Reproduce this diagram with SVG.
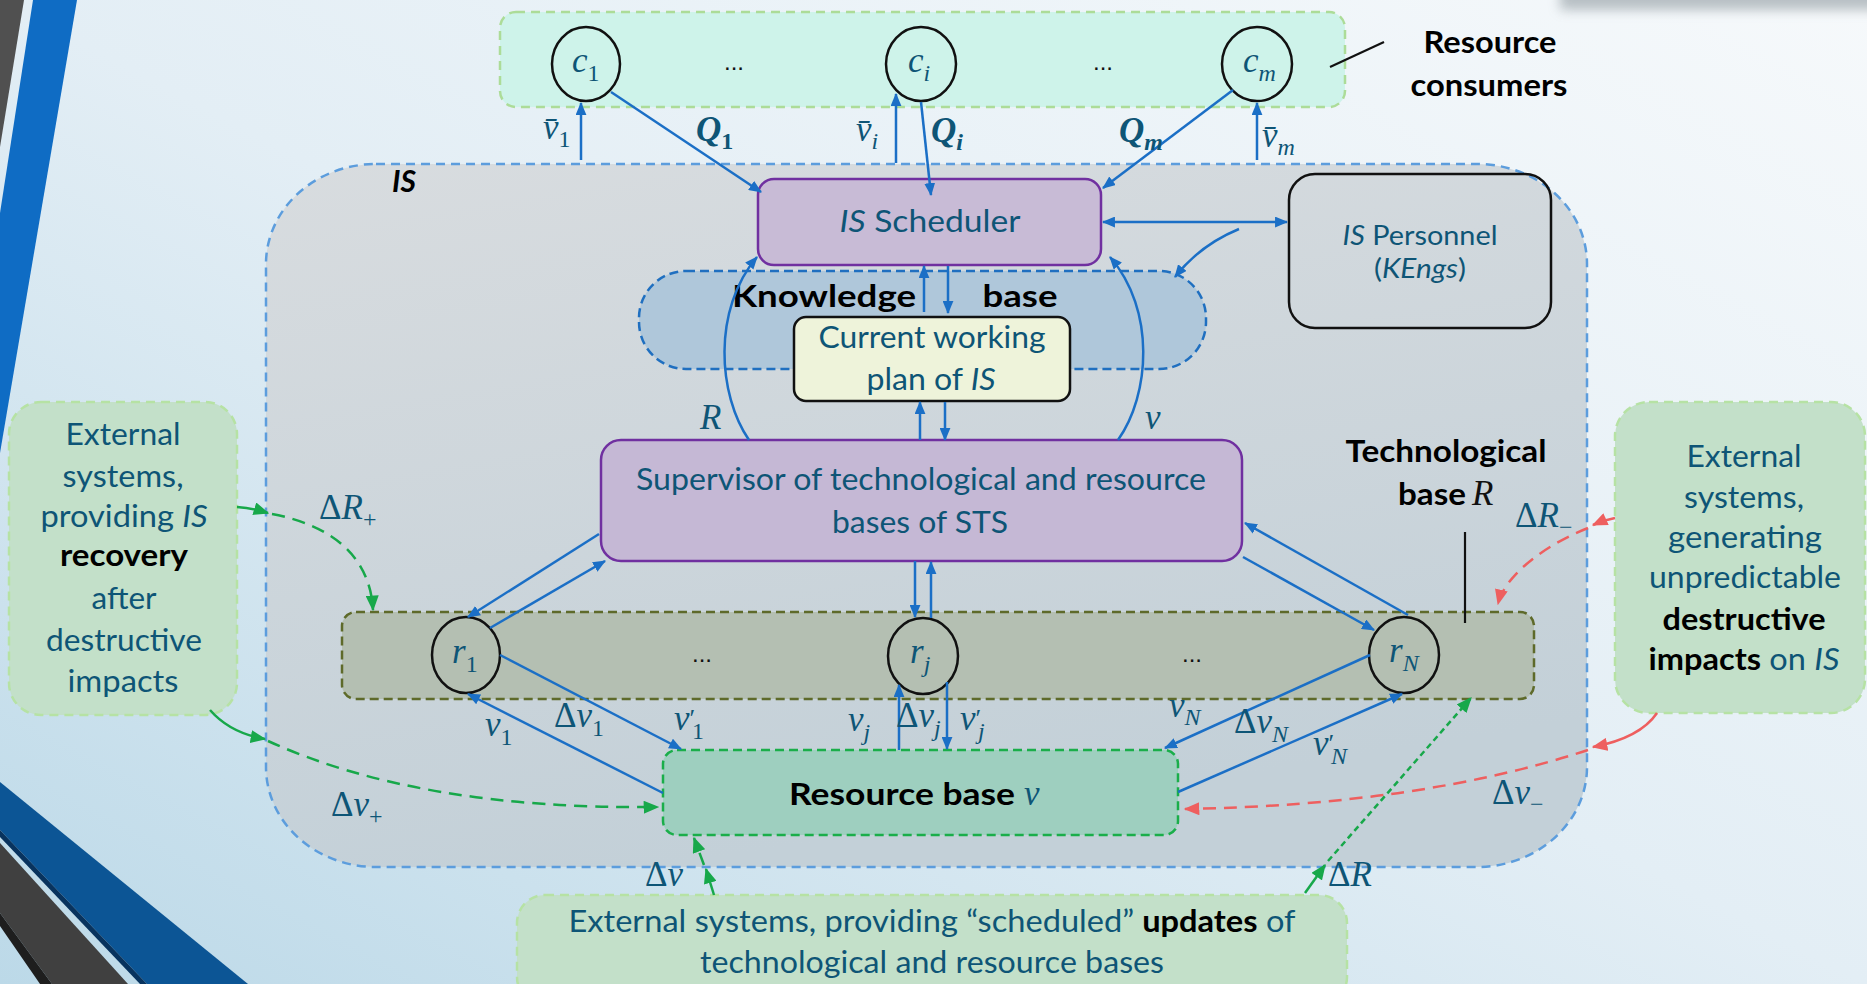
<svg xmlns="http://www.w3.org/2000/svg" width="1867" height="984" viewBox="0 0 1867 984">
<defs>
  <linearGradient id="bg" x1="1" y1="0" x2="0" y2="1">
    <stop offset="0" stop-color="#f6f9fb"/>
    <stop offset="0.5" stop-color="#e3eef5"/>
    <stop offset="1" stop-color="#bcd9e8"/>
  </linearGradient>
  <linearGradient id="isFill" x1="0" y1="0" x2="0.3" y2="1">
    <stop offset="0" stop-color="#d8dcdf"/>
    <stop offset="1" stop-color="#c3d0d8"/>
  </linearGradient>
  <filter id="soft" x="-20%" y="-100%" width="140%" height="300%">
    <feGaussianBlur stdDeviation="6"/>
  </filter>
  <marker id="ab" viewBox="0 0 12 10" refX="11" refY="5" markerWidth="13" markerHeight="11" markerUnits="userSpaceOnUse" orient="auto-start-reverse">
    <path d="M0,0 L12,5 L0,10 z" fill="#1b6fc6"/>
  </marker>
  <marker id="ag" viewBox="0 0 12 10" refX="11" refY="5" markerWidth="16" markerHeight="13" markerUnits="userSpaceOnUse" orient="auto">
    <path d="M0,0 L12,5 L0,10 z" fill="#17a84a"/>
  </marker>
  <marker id="ar" viewBox="0 0 12 10" refX="11" refY="5" markerWidth="16" markerHeight="13" markerUnits="userSpaceOnUse" orient="auto">
    <path d="M0,0 L12,5 L0,10 z" fill="#ee5f5f"/>
  </marker>
</defs>
<style>
  .t{font-family:Lato,'Open Sans','Liberation Sans',sans-serif;font-size:30px;fill:#0e5576}
  .k{font-weight:bold;fill:#000}
  .i{font-style:italic}
  .m{font-family:'Liberation Serif','DejaVu Serif',serif;font-style:italic;font-size:35px;fill:#0e5576}
  .s{font-size:24px}
  .u{font-style:normal}
  .dots{font-family:'Liberation Sans',sans-serif;font-size:24px;fill:#111}
  .node{fill:none;stroke:#111;stroke-width:2.5}
  .bl{fill:none;stroke:#1b6fc6;stroke-width:2.5;marker-end:url(#ab)}
  .gs{fill:none;stroke:#17a84a;stroke-width:2.5;marker-end:url(#ag)}
  .gd{fill:none;stroke:#17a84a;stroke-width:2.5;stroke-dasharray:13 8;marker-end:url(#ag)}
  .rs{fill:none;stroke:#ee5f5f;stroke-width:2.5;marker-end:url(#ar)}
  .rd{fill:none;stroke:#ee5f5f;stroke-width:2.5;stroke-dasharray:13 8;marker-end:url(#ar)}
  .ext{fill:#c3e0c9;stroke:#b6e2a4;stroke-width:2.5;stroke-dasharray:9 6}
</style>

<!-- page background and slide decorations -->
<rect width="1867" height="984" fill="url(#bg)"/>
<rect x="1560" y="-24" width="340" height="34" fill="#9ea7ad" opacity="0.7" filter="url(#soft)"/>
<g id="decor">
  <polygon points="0,0 24,0 0,147" fill="#505050"/>
  <polygon points="33,0 77,0 0,453 0,213" fill="#0f6cc4"/>
  <polygon points="0,782 248,984 147,984 0,830" fill="#0c5595"/>
  <polygon points="0,830 147,984 140,984 0,837" fill="#08335e"/>
  <polygon points="0,843 128,984 52,984 0,913" fill="#404040"/>
  <polygon points="0,913 52,984 40,984 0,926" fill="#1e1e1e"/>
</g>

<!-- information system boundary -->
<g id="is-region">
  <rect x="266" y="164" width="1321" height="703" rx="110" ry="100" fill="url(#isFill)" stroke="#5c9ddd" stroke-width="2.5" stroke-dasharray="9 6"/>
  <text class="t k i" x="392" y="192">IS</text>
</g>

<g id="consumers">
  <rect x="500" y="12" width="845" height="95" rx="16" fill="#cef3ea" stroke="#acdc98" stroke-width="2.5" stroke-dasharray="9 6"/>
  <text class="dots" x="734" y="70" text-anchor="middle">...</text>
  <text class="dots" x="1103" y="70" text-anchor="middle">...</text>
  <line x1="1330" y1="67" x2="1384" y2="42" stroke="#111" stroke-width="2.2"/>
  <text class="t k" x="1490" y="53" text-anchor="middle" textLength="133" lengthAdjust="spacingAndGlyphs">Resource</text>
  <text class="t k" x="1489" y="96" text-anchor="middle" textLength="157" lengthAdjust="spacingAndGlyphs">consumers</text>
</g>
<g id="c1">
  <ellipse cx="586" cy="64" rx="34" ry="37" class="node"/>
  <text class="m" x="572" y="72">c<tspan class="s u" y="81">1</tspan></text>
</g>
<g id="ci">
  <ellipse cx="921" cy="64" rx="35" ry="37" class="node"/>
  <text class="m" x="908" y="72">c<tspan class="s" y="81">i</tspan></text>
</g>
<g id="cm">
  <ellipse cx="1257" cy="64" rx="35" ry="37" class="node"/>
  <text class="m" x="1243" y="72">c<tspan class="s" y="81">m</tspan></text>
</g>

<g id="scheduler">
  <rect x="758" y="179" width="343" height="86" rx="16" fill="#c8bbd6" stroke="#7030a0" stroke-width="2.5"/>
  <text class="t" x="930" y="232" text-anchor="middle" textLength="181" lengthAdjust="spacingAndGlyphs"><tspan class="i">IS</tspan>  Scheduler</text>
</g>

<g id="personnel">
  <rect x="1289" y="174" width="262" height="154" rx="26" fill="none" stroke="#111" stroke-width="2.5"/>
  <text class="t" x="1420" y="245" text-anchor="middle" textLength="155" lengthAdjust="spacingAndGlyphs" style="font-size:27px"><tspan class="i">IS</tspan>  Personnel</text>
  <text class="t" x="1420" y="278" text-anchor="middle" textLength="92" lengthAdjust="spacingAndGlyphs" style="font-size:27px">(<tspan class="i">KEngs</tspan>)</text>
</g>

<g id="knowledge-base">
  <rect x="639" y="271" width="567" height="98" rx="47" fill="#afc7da" stroke="#1f6fc0" stroke-width="2.5" stroke-dasharray="9 5"/>
  <text class="t k" x="824" y="307" text-anchor="middle" textLength="184" lengthAdjust="spacingAndGlyphs">Knowledge</text>
  <text class="t k" x="1020" y="307" text-anchor="middle" textLength="75" lengthAdjust="spacingAndGlyphs">base</text>
</g>

<g id="working-plan">
  <rect x="794" y="317" width="276" height="84" rx="12" fill="#eef3da" stroke="#111" stroke-width="2.5"/>
  <text class="t" x="932" y="348" text-anchor="middle" textLength="227" lengthAdjust="spacingAndGlyphs">Current working</text>
  <text class="t" x="931" y="390" text-anchor="middle" textLength="129" lengthAdjust="spacingAndGlyphs">plan of <tspan class="i">IS</tspan></text>
</g>

<g id="supervisor">
  <rect x="601" y="440" width="641" height="121" rx="20" fill="#c5b8d5" stroke="#7030a0" stroke-width="2.5"/>
  <text class="t" x="921" y="490" text-anchor="middle" textLength="570" lengthAdjust="spacingAndGlyphs">Supervisor of technological and resource</text>
  <text class="t" x="920" y="533" text-anchor="middle" textLength="176" lengthAdjust="spacingAndGlyphs">bases of STS</text>
</g>

<g id="technological-base">
  <rect x="342" y="612" width="1192" height="87" rx="14" fill="#b4bfb2" stroke="#5e6a2a" stroke-width="2.5" stroke-dasharray="9 5"/>
  <text class="dots" x="702" y="662" text-anchor="middle">...</text>
  <text class="dots" x="1192" y="662" text-anchor="middle">...</text>
  <line x1="1465" y1="532" x2="1465" y2="623" stroke="#111" stroke-width="2.2"/>
  <text class="t k" x="1446" y="462" text-anchor="middle" textLength="201" lengthAdjust="spacingAndGlyphs">Technological</text>
  <text class="t k" x="1398" y="505" textLength="68" lengthAdjust="spacingAndGlyphs">base</text>
  <text class="m" x="1472" y="505" style="fill:#111">R</text>
</g>
<g id="r1">
  <ellipse cx="466" cy="655" rx="34" ry="38" class="node"/>
  <text class="m" x="452" y="663">r<tspan class="s u" y="672">1</tspan></text>
</g>
<g id="rj">
  <ellipse cx="923" cy="656" rx="35" ry="38" class="node"/>
  <text class="m" x="910" y="663">r<tspan class="s" y="672">j</tspan></text>
</g>
<g id="rN">
  <ellipse cx="1404" cy="655" rx="35" ry="38" class="node"/>
  <text class="m" x="1389" y="662">r<tspan class="s" y="671">N</tspan></text>
</g>

<g id="resource-base">
  <rect x="663" y="750" width="515" height="85" rx="14" fill="#9ecfbf" stroke="#1aae4a" stroke-width="2.5" stroke-dasharray="9 5"/>
  <text class="t k" x="789" y="805" textLength="226" lengthAdjust="spacingAndGlyphs">Resource base</text>
  <text class="m" x="1024" y="805">v</text>
</g>

<g id="ext-recovery">
  <rect x="9" y="402" width="228" height="313" rx="32" class="ext"/>
  <text class="t" x="123" y="445" text-anchor="middle" textLength="115" lengthAdjust="spacingAndGlyphs">External</text>
  <text class="t" x="123" y="487" text-anchor="middle" textLength="121" lengthAdjust="spacingAndGlyphs">systems,</text>
  <text class="t" x="124" y="527" text-anchor="middle" textLength="167" lengthAdjust="spacingAndGlyphs">providing <tspan class="i">IS</tspan></text>
  <text class="t k" x="124" y="566" text-anchor="middle" textLength="128" lengthAdjust="spacingAndGlyphs">recovery</text>
  <text class="t" x="124" y="609" text-anchor="middle" textLength="65" lengthAdjust="spacingAndGlyphs">after</text>
  <text class="t" x="124" y="651" text-anchor="middle" textLength="156" lengthAdjust="spacingAndGlyphs">destructive</text>
  <text class="t" x="123" y="692" text-anchor="middle" textLength="111" lengthAdjust="spacingAndGlyphs">impacts</text>
</g>

<g id="ext-destructive">
  <rect x="1615" y="402" width="250" height="311" rx="34" class="ext"/>
  <text class="t" x="1744" y="467" text-anchor="middle" textLength="115" lengthAdjust="spacingAndGlyphs">External</text>
  <text class="t" x="1744" y="508" text-anchor="middle" textLength="120" lengthAdjust="spacingAndGlyphs">systems,</text>
  <text class="t" x="1745" y="548" text-anchor="middle" textLength="154" lengthAdjust="spacingAndGlyphs">generating</text>
  <text class="t" x="1745" y="588" text-anchor="middle" textLength="192" lengthAdjust="spacingAndGlyphs">unpredictable</text>
  <text class="t k" x="1744" y="630" text-anchor="middle" textLength="163" lengthAdjust="spacingAndGlyphs">destructive</text>
  <text class="t" x="1744" y="670" text-anchor="middle" textLength="191" lengthAdjust="spacingAndGlyphs"><tspan class="k">impacts</tspan> on <tspan class="i">IS</tspan></text>
</g>

<g id="ext-updates">
  <rect x="517" y="895" width="830" height="110" rx="28" class="ext"/>
  <text class="t" x="932" y="932" text-anchor="middle" textLength="727" lengthAdjust="spacingAndGlyphs">External systems, providing “scheduled” <tspan class="k">updates</tspan> of</text>
  <text class="t" x="932" y="973" text-anchor="middle" textLength="464" lengthAdjust="spacingAndGlyphs">technological and resource bases</text>
</g>

<g id="connectors">
  <!-- consumers and scheduler -->
  <path class="bl" d="M581 160 L581 103"/>
  <path class="bl" d="M896 163 L896 94"/>
  <path class="bl" d="M1257 160 L1257 103"/>
  <path class="bl" d="M611 92 L761 192"/>
  <path class="bl" d="M921 102 L931 195"/>
  <path class="bl" d="M1233 90 L1103 188"/>
  <path class="bl" style="marker-start:url(#ab)" d="M1103 222 L1287 222"/>
  <path class="bl" d="M1239 229 Q1200 245 1175 277"/>
  <path class="bl" d="M924 312 L924 266"/>
  <path class="bl" d="M948 266 L948 313"/>
  <path class="bl" d="M920 440 L920 402"/>
  <path class="bl" d="M945 402 L945 440"/>
  <path class="bl" d="M749 440 C718 395 712 310 757 257"/>
  <path class="bl" d="M1118 440 C1150 395 1156 310 1110 257"/>
  <!-- supervisor and technological base -->
  <path class="bl" d="M599 534 L468 617"/>
  <path class="bl" d="M490 628 L605 561"/>
  <path class="bl" d="M915 561 L915 617"/>
  <path class="bl" d="M931 618 L931 562"/>
  <path class="bl" d="M1408 615 L1245 523"/>
  <path class="bl" d="M1243 557 L1374 630"/>
  <!-- technological base and resource base -->
  <path class="bl" d="M663 793 L468 694"/>
  <path class="bl" d="M500 655 L681 749"/>
  <path class="bl" d="M899 750 L899 685"/>
  <path class="bl" d="M947 682 L947 749"/>
  <path class="bl" d="M1370 655 L1165 748"/>
  <path class="bl" d="M1178 792 L1402 694"/>
  <!-- external impacts -->
  <path class="gs" d="M237 507 Q252 508 268 513"/>
  <path class="gd" d="M272 514 C330 525 370 555 373 610"/>
  <path class="gs" d="M210 710 Q230 733 265 739"/>
  <path class="gd" d="M268 741 Q420 810 658 807"/>
  <path class="rs" d="M1615 518 Q1604 520 1593 525"/>
  <path class="rd" d="M1588 528 C1545 545 1505 575 1498 604"/>
  <path class="rs" d="M1657 713 Q1640 738 1593 747"/>
  <path class="rd" d="M1588 750 Q1420 805 1185 809"/>
  <path class="gs" d="M714 895 L706 869"/>
  <path class="gd" d="M704 865 L694 838"/>
  <path class="gs" d="M1305 893 L1325 865"/>
  <path class="gd" style="stroke-dasharray:6 4" d="M1328 861 L1471 698"/>

  <!-- labels -->
  <text class="m" x="543" y="139">v&#x304;<tspan class="s u" y="147">1</tspan></text>
  <text class="m" x="856" y="141">v&#x304;<tspan class="s" y="149">i</tspan></text>
  <text class="m" x="1262" y="147">v&#x304;<tspan class="s" y="155">m</tspan></text>
  <text class="m" x="696" y="141" style="font-weight:bold">Q<tspan class="s u" y="149">1</tspan></text>
  <text class="m" x="931" y="142" style="font-weight:bold">Q<tspan class="s" y="150">i</tspan></text>
  <text class="m" x="1119" y="142" style="font-weight:bold">Q<tspan class="s" y="150">m</tspan></text>
  <text class="m" x="700" y="429">R</text>
  <text class="m" x="1145" y="429">v</text>
  <text class="m" x="319" y="519"><tspan class="u">Δ</tspan>R<tspan class="s u" y="527">+</tspan></text>
  <text class="m" x="331" y="816"><tspan class="u">Δ</tspan>v<tspan class="s u" y="824">+</tspan></text>
  <text class="m" x="1515" y="527"><tspan class="u">Δ</tspan>R<tspan class="s u" y="535">−</tspan></text>
  <text class="m" x="1492" y="804"><tspan class="u">Δ</tspan>v<tspan class="s u" y="812">−</tspan></text>
  <text class="m" x="645" y="886"><tspan class="u">Δ</tspan>v</text>
  <text class="m" x="1328" y="886"><tspan class="u">Δ</tspan>R</text>
  <text class="m" x="485" y="736">v<tspan class="s u" y="745">1</tspan></text>
  <text class="m" x="554" y="727"><tspan class="u">Δ</tspan>v<tspan class="s u" y="736">1</tspan></text>
  <text class="m" x="674" y="730">v<tspan class="u" style="font-size:26px" dy="-3">′</tspan><tspan class="s u" x="692" y="739">1</tspan></text>
  <text class="m" x="848" y="731">v<tspan class="s" y="740">j</tspan></text>
  <text class="m" x="896" y="727"><tspan class="u">Δ</tspan>v<tspan class="s" y="736">j</tspan></text>
  <text class="m" x="960" y="730">v<tspan class="u" style="font-size:26px" dy="-3">′</tspan><tspan class="s" x="978" y="739">j</tspan></text>
  <text class="m" x="1169" y="717">v<tspan class="s" y="725">N</tspan></text>
  <text class="m" x="1234" y="733"><tspan class="u">Δ</tspan>v<tspan class="s" y="742">N</tspan></text>
  <text class="m" x="1313" y="755">v<tspan class="u" style="font-size:26px" dy="-3">′</tspan><tspan class="s" x="1331" y="764">N</tspan></text>
</g>
</svg>
